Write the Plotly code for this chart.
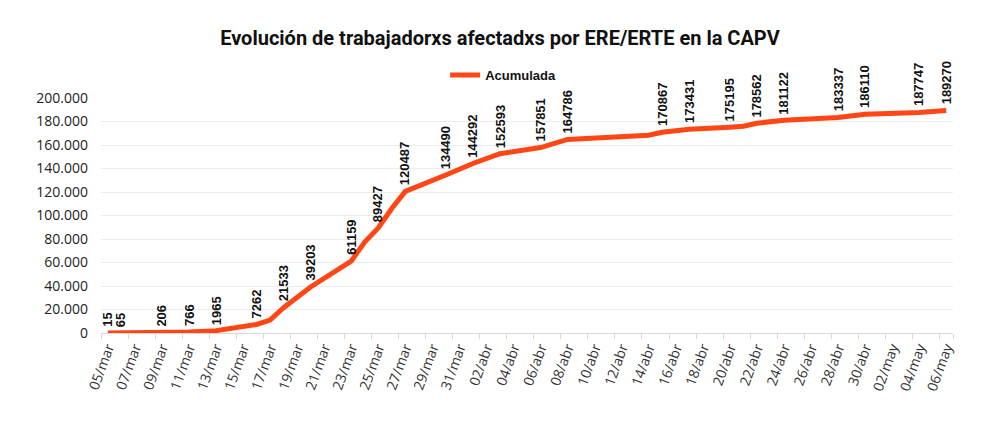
import pandas as pd
import plotly.graph_objects as go

# Categories: every day from 05/mar to 06/may
month_abbr = {3: "mar", 4: "abr", 5: "may"}
all_days = pd.date_range("2020-03-05", "2020-05-06", freq="D")
categories = [f"{d.day:02d}/{month_abbr[d.month]}" for d in all_days]
tick_labels = categories[::2]

# Data points (dates with reported values)
point_dates = [
    "05/mar", "06/mar", "09/mar", "11/mar", "13/mar", "16/mar", "17/mar",
    "18/mar", "20/mar", "23/mar", "24/mar", "25/mar", "26/mar", "27/mar",
    "30/mar", "01/abr", "03/abr", "06/abr", "08/abr", "14/abr", "15/abr",
    "17/abr", "20/abr", "21/abr", "22/abr", "24/abr", "28/abr", "30/abr",
    "04/may", "06/may",
]
point_values = [
    15, 65, 206, 766, 1965, 7262, 11000,
    21533, 39203, 61159, 77400, 89427, 106000, 120487,
    134490, 144292, 152593, 157851, 164786, 168300, 170867,
    173431, 175195, 176000, 178562, 181122, 183337, 186110,
    187747, 189270,
]
point_labeled = [
    True, True, True, True, True, True, False,
    True, True, True, False, True, False, True,
    True, True, True, True, True, False, True,
    True, True, False, True, True, True, True,
    True, True,
]

line_color = "#FF4614"

# page body has an 8px default margin; figure sized to fit the window
W, H = 992, 421

fig = go.Figure()
fig.add_trace(go.Scatter(
    x=point_dates, y=point_values, mode="lines", name="Acumulada",
    line=dict(color=line_color, width=5),
    hoverinfo="x+y",
))

for d, v, lab in zip(point_dates, point_values, point_labeled):
    if lab:
        fig.add_annotation(
            x=d, y=v, xref="x", yref="y", text=str(v), showarrow=False,
            textangle=-90, yanchor="bottom", xanchor="center", yshift=4,
            font=dict(family="Liberation Sans", size=13, color="#111111", weight="bold"),
        )

fig.update_layout(
    width=W, height=H,
    margin=dict(l=93, r=47, t=90, b=96, autoexpand=False),
    paper_bgcolor="white", plot_bgcolor="white",
    separators=",.",
    title=dict(
        text="<b>Evolución de trabajadorxs afectadxs por ERE/ERTE en la CAPV</b>",
        x=(500 - 8) / W, xanchor="center", y=1 - 30 / H, yanchor="middle",
        font=dict(family="Roboto", size=20, color="#111111"),
    ),
    showlegend=True,
    legend=dict(
        orientation="h", x=0.472, xanchor="center", y=1 + 23 / 235, yanchor="middle",
        font=dict(family="Liberation Sans", size=13, color="#111111", weight="bold"),
        bgcolor="rgba(0,0,0,0)",
    ),
    xaxis=dict(
        type="category", categoryorder="array", categoryarray=categories,
        range=[-0.5, len(categories) - 0.5],
        tickmode="array", tickvals=tick_labels, ticktext=tick_labels,
        tickangle=-70, tickson="boundaries", ticks="outside", ticklen=5,
        tickcolor="#d9d9d9", showgrid=False,
        showline=True, linecolor="#d9d9d9", linewidth=1,
        tickfont=dict(family="Open Sans", size=14, color="#333333"),
        fixedrange=True,
    ),
    yaxis=dict(
        range=[0, 200000], tickmode="linear", tick0=0, dtick=20000,
        tickformat=",d", showgrid=True, gridcolor="#ececec", gridwidth=1,
        zeroline=False, showline=False, ticks="", ticklabelstandoff=12,
        tickfont=dict(family="Open Sans", size=14, color="#222222"),
        fixedrange=True,
    ),
)

fig.write_html("out.html")
